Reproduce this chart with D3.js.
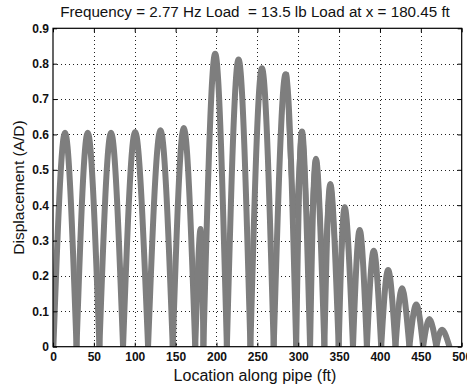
<!DOCTYPE html>
<html>
<head>
<meta charset="utf-8">
<script src="https://cdn.jsdelivr.net/npm/d3@7"></script>
<style>
  html, body { margin: 0; padding: 0; background: #fff; }
  svg { display: block; }
  text { font-family: "Liberation Sans", Arial, sans-serif; fill: #111; white-space: pre; }
</style>
</head>
<body>
<svg id="chart" width="467" height="387"></svg>
<script>
// ---- data ----
const titleText = "Frequency = 2.77 Hz Load  = 13.5 lb Load at x = 180.45 ft";
const xLabel = "Location along pipe (ft)";
const yLabel = "Displacement (A/D)";
const xTicks = [0, 50, 100, 150, 200, 250, 300, 350, 400, 450, 500];
const yTicks = [0, 0.1, 0.2, 0.3, 0.4, 0.5, 0.6, 0.7, 0.8, 0.9];
const yTickLabels = ["0", "0.1", "0.2", "0.3", "0.4", "0.5", "0.6", "0.7", "0.8", "0.9"];

// locations (ft) where the displacement returns to zero
const zeroX = [0.5, 28.8, 56.8, 85.7, 116.3, 146.5, 174, 184, 212.7, 241.5, 270, 297.5,
               314.5, 332, 349.5, 367, 384, 401.5, 419, 436, 452.8, 469, 485];
// hump crest locations (ft) and heights (A/D)
const peakX = [14.7, 42.5, 71, 100.5, 131.5, 160, 180.5, 198.4, 227, 255.6, 284.5,
               304.6, 321.7, 339.3, 356.9, 375.2, 392.4, 410, 427, 444.4, 460.5, 476];
const peakY = [0.605, 0.605, 0.605, 0.607, 0.612, 0.618, 0.333, 0.828, 0.812, 0.787, 0.770,
               0.608, 0.531, 0.460, 0.394, 0.330, 0.271, 0.217, 0.165, 0.119, 0.078, 0.048];
// overlapping strand with shallow troughs (x ft, A/D)
const overlapX = [286, 296.5, 304.6, 313.5, 321.7, 331, 339.3, 348.5, 356.9];
const overlapY = [0.77, 0.37, 0.608, 0.28, 0.531, 0.23, 0.460, 0.20, 0.394];

// ---- layout ----
const svg = d3.select("#chart");
const L = 53, R = 461.7, T = 28.3, B = 346.7;
const x = d3.scaleLinear().domain([0, 500]).range([L, R]);
const y = d3.scaleLinear().domain([0, 0.9]).range([B, T]);

svg.append("defs").append("clipPath").attr("id", "plotclip")
  .append("rect").attr("x", L).attr("y", T).attr("width", R - L).attr("height", B - T);

// grid
const grid = svg.append("g").attr("stroke", "#222").attr("stroke-width", 1)
  .attr("stroke-dasharray", "1,3").attr("shape-rendering", "crispEdges");
xTicks.slice(1, -1).forEach(t => {
  grid.append("line").attr("x1", Math.round(x(t)) + 0.5).attr("x2", Math.round(x(t)) + 0.5)
    .attr("y1", T).attr("y2", B);
});
yTicks.slice(1, -1).forEach(t => {
  grid.append("line").attr("y1", Math.round(y(t)) + 0.5).attr("y2", Math.round(y(t)) + 0.5)
    .attr("x1", L).attr("x2", R);
});

// displacement curve: one arch per hump
const line = d3.line().x(d => x(d[0])).y(d => y(d[1])).curve(d3.curveNatural);
const arches = peakX.map((px, i) => [[zeroX[i], 0], [px, peakY[i]], [zeroX[i + 1], 0]]);
const plot = svg.append("g").attr("clip-path", "url(#plotclip)");
const strokeStyle = sel => sel.attr("fill", "none")
  .attr("stroke", "#7e7e7e")
  .attr("stroke-width", 6)
  .attr("stroke-linecap", "round")
  .attr("stroke-linejoin", "round");

const overlapLine = d3.line().x(d => x(d[0])).y(d => y(d[1])).curve(d3.curveMonotoneX);
plot.append("path").datum(overlapX.map((v, i) => [v, overlapY[i]]))
  .attr("d", overlapLine).call(strokeStyle).attr("stroke-width", 5);

plot.selectAll("path.arch").data(arches).join("path")
  .attr("class", "arch")
  .attr("d", line)
  .call(strokeStyle);

// axes
const fmtY = d => yTickLabels[yTicks.indexOf(d)];
const axB = svg.append("g").attr("transform", `translate(0,${B})`)
  .call(d3.axisBottom(x).tickValues(xTicks).tickSizeInner(-4).tickSizeOuter(0).tickPadding(6));
const axL = svg.append("g").attr("transform", `translate(${L},0)`)
  .call(d3.axisLeft(y).tickValues(yTicks).tickFormat(fmtY).tickSizeInner(-4).tickSizeOuter(0).tickPadding(4));
const axT = svg.append("g").attr("transform", `translate(0,${T})`)
  .call(d3.axisTop(x).tickValues(xTicks).tickSizeInner(-4).tickSizeOuter(0).tickFormat(""));
const axR = svg.append("g").attr("transform", `translate(${R},0)`)
  .call(d3.axisRight(y).tickValues(yTicks).tickSizeInner(-4).tickSizeOuter(0).tickFormat(""));
[axB, axL, axT, axR].forEach(g => {
  g.select(".domain").remove();
  g.selectAll(".tick line").attr("stroke", "#000");
  g.selectAll("text").attr("font-family", "'Liberation Sans', Arial, sans-serif")
    .attr("font-size", 12).attr("font-weight", "bold").attr("fill", "#111");
});

// frame
svg.append("rect").attr("x", L).attr("y", T).attr("width", R - L).attr("height", B - T)
  .attr("fill", "none").attr("stroke", "#000").attr("stroke-width", 1.2);

// title and labels
svg.append("text").attr("x", 255).attr("y", 16.5).attr("text-anchor", "middle")
  .attr("font-size", 15.2).text(titleText);
svg.append("text").attr("x", 255).attr("y", 381).attr("text-anchor", "middle")
  .attr("font-size", 16).text(xLabel);
svg.append("text").attr("transform", "translate(23.5,187.5) rotate(-90)")
  .attr("text-anchor", "middle").attr("font-size", 15.5).text(yLabel);
</script>
</body>
</html>
